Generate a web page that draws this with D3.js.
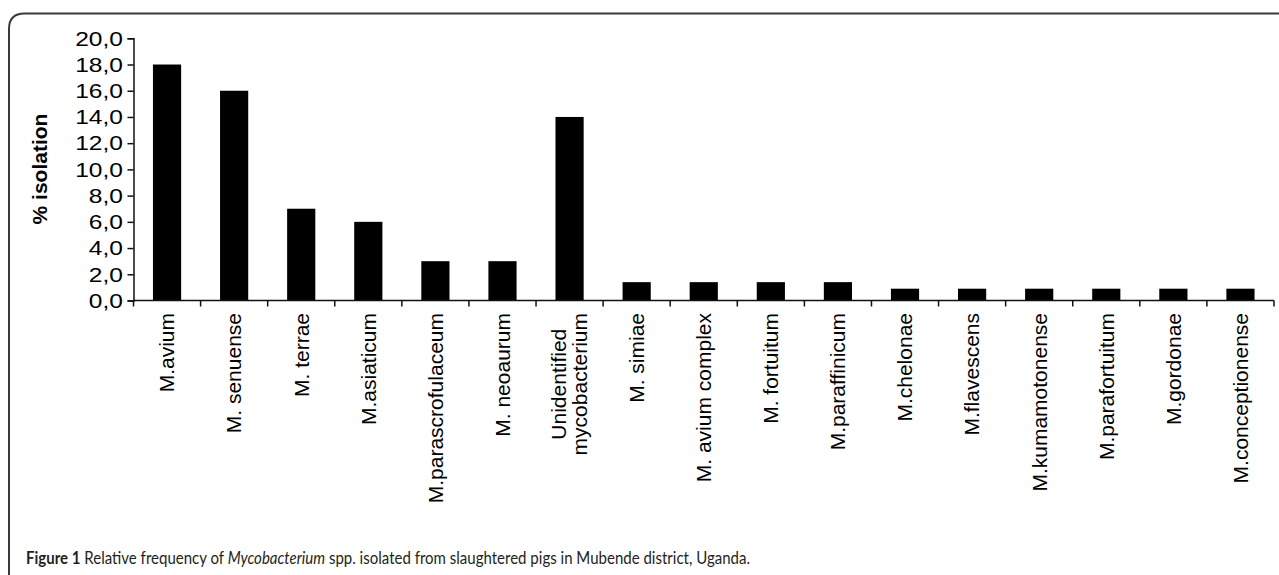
<!DOCTYPE html>
<html>
<head>
<meta charset="utf-8">
<script src="https://cdn.jsdelivr.net/npm/d3@7"></script>
<style>
  body { margin: 0; background: #fff; }
  svg { display: block; }
</style>
</head>
<body>
<div id="grafico"></div>
<script>
// datos
var categorias = ["M.avium", "M. senuense", "M. terrae", "M.asiaticum", "M.parascrofulaceum",
  "M. neoaurum", "Unidentified\nmycobacterium", "M. simiae", "M. avium complex", "M. fortuitum",
  "M.paraffinicum", "M.chelonae", "M.flavescens", "M.kumamotonense", "M.parafortuitum",
  "M.gordonae", "M.conceptionense"];
var valores = [18.0, 16.0, 7.0, 6.0, 3.0, 3.0, 14.0, 1.4, 1.4, 1.4, 1.4, 0.9, 0.9, 0.9, 0.9, 0.9, 0.9];
var ticksY = [0, 2, 4, 6, 8, 10, 12, 14, 16, 18, 20];
var tituloY = "% isolation";

var width = 1279;
var height = 575;
var fuente = "Arial, 'Liberation Sans', sans-serif";

var svg = d3.select("#grafico")
  .append("svg")
  .attr("width", width)
  .attr("height", height);

// marco con la esquina redondeada (abierto a la derecha y abajo)
svg.append("path")
  .attr("d", "M9,575 L9,29 Q9,13.5 24.5,13.5 L1279,13.5")
  .attr("fill", "none")
  .attr("stroke", "#3a3a3a")
  .attr("stroke-width", 2);

var x = d3.scaleBand()
  .domain(categorias)
  .range([133.5, 1274])
  .paddingInner(0.58)
  .paddingOuter(0.29);

var y = d3.scaleLinear()
  .domain([0, 20])
  .range([300.5, 38.3]);

// barras
svg.selectAll(".barra")
  .data(valores)
  .enter()
  .append("rect")
  .attr("class", "barra")
  .attr("x", function(d, i){ return x(categorias[i]); })
  .attr("y", function(d){ return y(d); })
  .attr("width", x.bandwidth())
  .attr("height", function(d){ return y(0) - y(d); })
  .attr("fill", "#000");

// eje Y
var ejeY = svg.append("g")
  .attr("transform", "translate(133.5,0)")
  .call(d3.axisLeft(y)
    .tickValues(ticksY)
    .tickSize(6)
    .tickPadding(3)
    .tickFormat(function(d){ return d3.format(".1f")(d).replace(".", ","); }));
ejeY.select(".domain").attr("stroke", "#111").attr("stroke-width", 1.5);
ejeY.selectAll(".tick line").attr("stroke", "#111").attr("stroke-width", 1.5);
// los numeros del original se ven estirados a lo ancho
ejeY.selectAll(".tick text")
  .attr("font-family", fuente)
  .attr("font-size", 21)
  .attr("transform", "scale(1.17,1)")
  .attr("fill", "#000");

// eje X: linea y marcas entre categorias
var ejeX = svg.append("g");
ejeX.append("line")
  .attr("x1", 133.5)
  .attr("x2", 1274)
  .attr("y1", y(0))
  .attr("y2", y(0))
  .attr("stroke", "#111")
  .attr("stroke-width", 1.5);
ejeX.selectAll(".marca")
  .data(d3.range(categorias.length + 1))
  .enter()
  .append("line")
  .attr("class", "marca")
  .attr("x1", function(i){ return 133.5 + i * x.step(); })
  .attr("x2", function(i){ return 133.5 + i * x.step(); })
  .attr("y1", y(0))
  .attr("y2", y(0) + 6)
  .attr("stroke", "#111")
  .attr("stroke-width", 1.5);

// etiquetas rotadas, el bloque queda alineado arriba y las lineas centradas
var lineaAlto = 21;
var etiquetas = svg.selectAll(".etiqueta")
  .data(categorias)
  .enter()
  .append("text")
  .attr("class", "etiqueta")
  .attr("font-family", fuente)
  .attr("font-size", 21)
  .attr("fill", "#000")
  .attr("text-anchor", "middle");

etiquetas.each(function(d){
  var t = d3.select(this);
  var lineas = d.split("\n");
  lineas.forEach(function(l, k){
    t.append("tspan")
      .attr("x", 0)
      .attr("y", (k - (lineas.length - 1) / 2) * lineaAlto)
      .attr("dy", "0.35em")
      .text(l);
  });
  var largo = 0;
  t.selectAll("tspan").each(function(){
    largo = Math.max(largo, this.getComputedTextLength());
  });
  var cx = x(d) + x.bandwidth() / 2;
  t.attr("transform", "translate(" + cx + "," + (y(0) + 12.5 + largo / 2) + ") rotate(-90)");
});

// titulo del eje Y
svg.append("text")
  .attr("transform", "translate(47,169) rotate(-90)")
  .attr("text-anchor", "middle")
  .attr("font-family", fuente)
  .attr("font-size", 21)
  .attr("font-weight", "bold")
  .attr("fill", "#000")
  .text(tituloY);

// leyenda de la figura (se angosta para parecerse a la fuente del original)
var leyenda = svg.append("text")
  .attr("transform", "translate(26,564) scale(0.884,1)")
  .attr("font-family", "Lato, sans-serif")
  .attr("font-size", 17)
  .attr("fill", "#231f20");
leyenda.append("tspan").attr("font-weight", "bold").text("Figure 1");
leyenda.append("tspan").text(" Relative frequency of ");
leyenda.append("tspan").attr("font-style", "italic").text("Mycobacterium");
leyenda.append("tspan").text(" spp. isolated from slaughtered pigs in Mubende district, Uganda.");
</script>
</body>
</html>
